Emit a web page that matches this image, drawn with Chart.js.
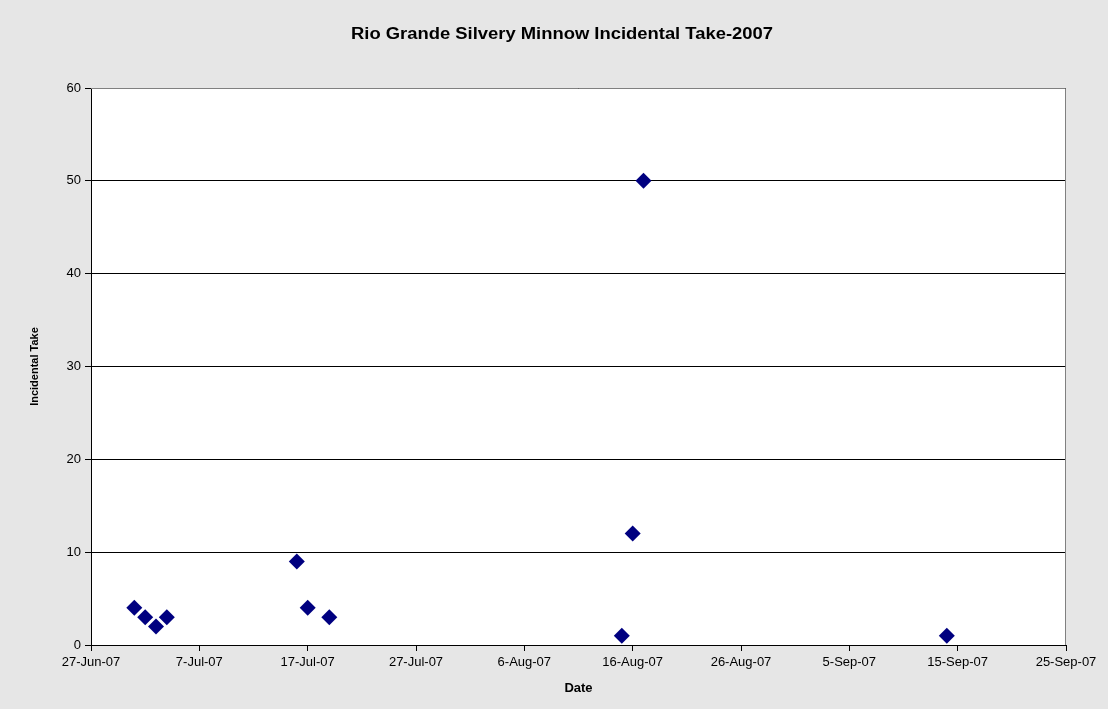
<!DOCTYPE html>
<html>
<head>
<meta charset="utf-8">
<script src="https://cdn.jsdelivr.net/npm/chart.js@4.4.0/dist/chart.umd.min.js"></script>
<style>
  html, body { margin: 0; padding: 0; background: #e6e6e6; }
  #wrap { width: 1108px; height: 709px; }
</style>
</head>
<body>
<div id="wrap"><canvas id="takeChart" width="1108" height="709"></canvas></div>
<script>
// Data
const chartTitle = 'Rio Grande Silvery Minnow Incidental Take-2007';
const startDate = '2007-06-27';
const sampleDates = ['2007-07-01', '2007-07-02', '2007-07-03', '2007-07-04',
                     '2007-07-16', '2007-07-17', '2007-07-19',
                     '2007-08-15', '2007-08-16', '2007-08-17', '2007-09-14'];
const takeCounts = [4, 3, 2, 3, 9, 4, 3, 1, 12, 50, 1];
const xTickLabels = ['27-Jun-07', '7-Jul-07', '17-Jul-07', '27-Jul-07', '6-Aug-07',
                     '16-Aug-07', '26-Aug-07', '5-Sep-07', '15-Sep-07', '25-Sep-07'];
const yTicks = [0, 10, 20, 30, 40, 50, 60];

const DAY = 86400000;
const dayOffset = d => Math.round((Date.parse(d) - Date.parse(startDate)) / DAY);
const points = sampleDates.map((d, i) => ({ x: dayOffset(d), y: takeCounts[i] }));

// white plot area with grey frame, plus the (slightly stretched) title
const plotFrame = {
    id: 'plotFrame',
    beforeDraw(chart) {
        const { ctx, chartArea: a } = chart;
        ctx.save();
        ctx.fillStyle = '#ffffff';
        ctx.fillRect(a.left, a.top, a.right - a.left, a.bottom - a.top);
        ctx.restore();
    },
    afterDatasetsDraw(chart) {
        const { ctx, chartArea: a } = chart;
        ctx.save();
        ctx.strokeStyle = '#808080';
        ctx.lineWidth = 1;
        ctx.beginPath();
        ctx.moveTo(a.left, a.top + 0.5);
        ctx.lineTo(a.right - 0.5, a.top + 0.5);
        ctx.lineTo(a.right - 0.5, a.bottom);
        ctx.stroke();
        ctx.restore();
    },
    afterDraw(chart) {
        const ctx = chart.ctx;
        ctx.save();
        ctx.translate(562, 35);
        ctx.scale(1.15, 1);
        ctx.fillStyle = '#000';
        ctx.font = 'bold 16px "Liberation Sans", Arial';
        ctx.textAlign = 'center';
        ctx.textBaseline = 'middle';
        ctx.fillText(chartTitle, 0, 0);
        ctx.restore();
    }
};

const ctx = document.getElementById('takeChart').getContext('2d');
const takeChart = new Chart(ctx, {
    type: 'scatter',
    data: {
        datasets: [{
            label: 'Incidental Take',
            data: points,
            pointStyle: 'rectRot',
            pointRadius: 8,
            pointHoverRadius: 8,
            backgroundColor: '#000080',
            borderColor: '#000080',
            borderWidth: 0
        }]
    },
    options: {
        responsive: false,
        animation: false,
        layout: { padding: { left: 0, right: 42, top: 88, bottom: 0 } },
        plugins: {
            legend: { display: false },
            tooltip: { enabled: false },
            title: { display: false }
        },
        scales: {
            x: {
                type: 'linear',
                min: 0,
                max: 90,
                afterFit: s => { s.height = 64; },
                afterBuildTicks: s => { s.ticks = xTickLabels.map((l, i) => ({ value: i * 10 })); },
                ticks: {
                    color: '#000',
                    font: { family: 'Liberation Sans, Arial', size: 13 },
                    padding: 4,
                    maxRotation: 0,
                    autoSkip: false,
                    callback: (v, i) => xTickLabels[i]
                },
                grid: { drawOnChartArea: false, drawTicks: true, tickLength: 6, color: '#000' },
                border: { color: '#000', width: 1 },
                title: {
                    display: true,
                    text: 'Date',
                    color: '#000',
                    font: { family: 'Liberation Sans, Arial', size: 13, weight: 'bold' },
                    padding: { top: 0, bottom: 13 }
                }
            },
            y: {
                min: 0,
                max: 60,
                afterFit: s => { s.width = 91; },
                afterBuildTicks: s => { s.ticks = yTicks.map(v => ({ value: v })); },
                ticks: {
                    color: '#000',
                    font: { family: 'Liberation Sans, Arial', size: 13 },
                    padding: 4
                },
                grid: { color: '#000', tickLength: 6, lineWidth: 1 },
                border: { color: '#000', width: 1 },
                title: {
                    display: true,
                    text: 'Incidental Take',
                    color: '#000',
                    font: { family: 'Liberation Sans, Arial', size: 11, weight: 'bold' },
                    padding: { top: 28, bottom: 0 }
                }
            }
        }
    },
    plugins: [plotFrame]
});
</script>
</body>
</html>
